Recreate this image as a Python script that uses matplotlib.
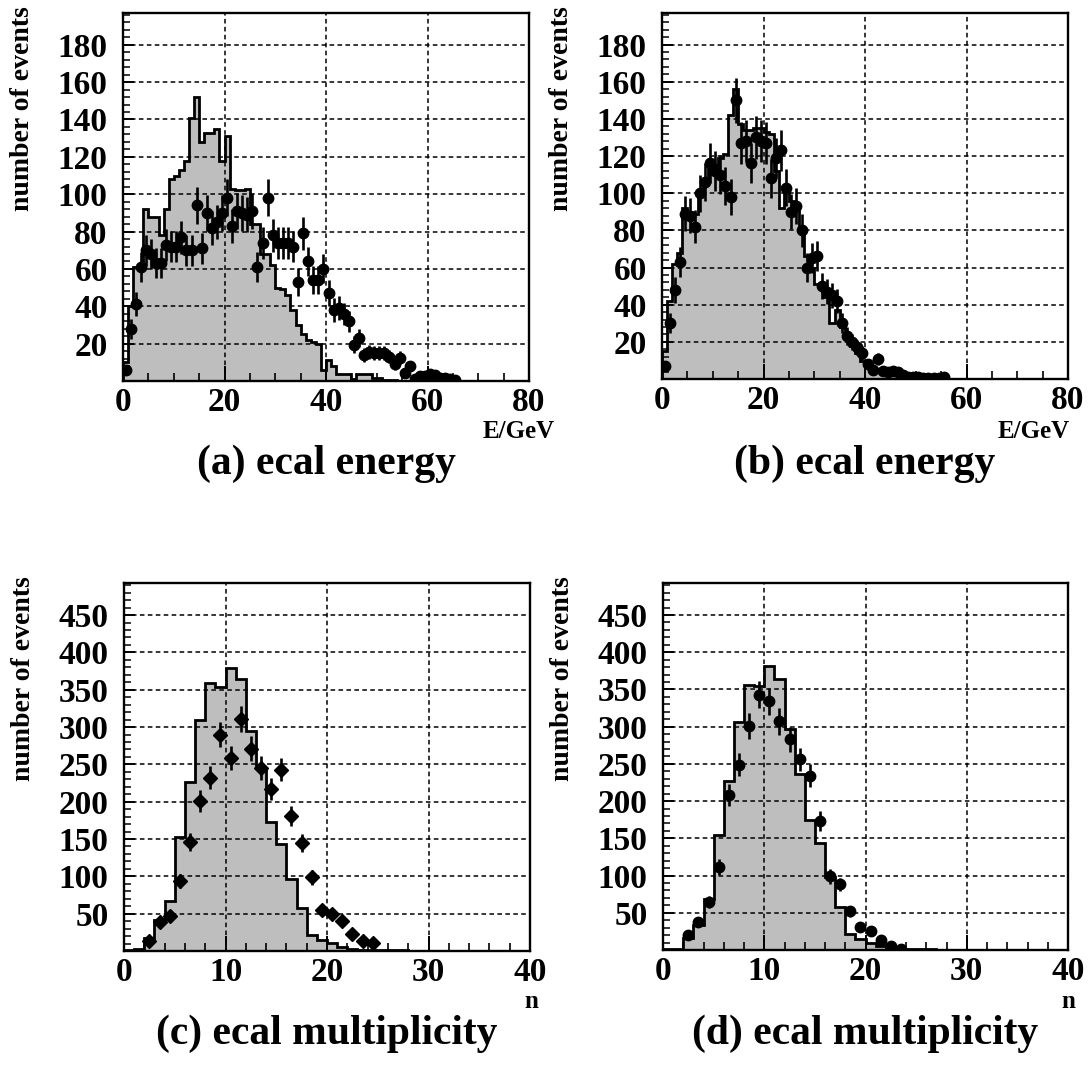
import numpy as np
import matplotlib
matplotlib.use("Agg")
import matplotlib.pyplot as plt
from matplotlib.ticker import MultipleLocator, FixedLocator

plt.rcParams["font.family"] = ["Liberation Serif", "DejaVu Serif"]
plt.rcParams["font.weight"] = "bold"

# ---- ecal energy: 1 GeV bins, 0-80 GeV ----
energy_edges = np.arange(0, 81, 1)

mc_energy_a = [10, 40, 61, 62, 92, 88, 88, 78, 92, 108,
               110, 113, 118, 141, 152, 128, 133, 133, 135, 118,
               131, 103, 102, 102, 103, 84, 84, 68, 68, 62,
               50, 49, 46, 38, 30, 25, 22, 21, 20, 6,
               11, 8, 4, 4, 4, 1, 3.5, 3.5, 3.5, 1.5,
               1.5, 0.5, 0.5, 0.5, 0, 0, 0, 0, 0, 0,
               0, 0, 0, 0, 0, 0, 0, 0, 0, 0,
               0, 0, 0, 0, 0, 0, 0, 0, 0, 0]

data_energy_a = [6, 28, 41, 61, 70, 68, 63, 63, 73, 72,
                 72, 77, 70, 70, 94, 71, 90, 82, 85, 90,
                 98, 83, 91, 90, 89, 91, 61, 74, 98, 78,
                 74, 74, 74, 72, 53, 79, 64, 54, 54, 60,
                 47, 38, 39, 36, 32, 19.5, 23, 14, 15.5, 15,
                 15, 15, 13, 9, 12.4, 4.4, 8, 1, 2.7, 2.7,
                 3.5, 3, 1.8, 1.4, 1, 0.5, 0, 0, 0, 0,
                 0, 0, 0, 0, 0, 0, 0, 0, 0, 0]

mc_energy_b = [15, 42, 62, 68, 92, 90, 89, 100, 107, 115,
               115, 119, 121, 142, 156, 137, 134, 134, 135, 135,
               133, 132, 112, 92, 101, 96, 92, 80, 66, 60,
               51, 49, 44, 30, 37, 28, 22, 18, 14, 9.5,
               7, 4, 3.5, 3, 2, 2, 2, 1.5, 1, 1,
               1, 0.5, 0.5, 0.5, 0.5, 0, 0, 0, 0, 0,
               0, 0, 0, 0, 0, 0, 0, 0, 0, 0,
               0, 0, 0, 0, 0, 0, 0, 0, 0, 0]

data_energy_b = [7, 30, 48, 63, 89, 88, 82, 100, 106, 116,
                 112, 110, 104, 98, 150, 127, 128, 116, 130, 128,
                 127, 108, 119, 123, 103, 90, 93, 80, 60, 65,
                 66, 50, 47, 45, 42, 30, 23, 20, 17, 14,
                 8, 5, 10.7, 4.5, 4, 4.5, 3.5, 2, 1, 1,
                 1, 0.5, 0.5, 0.5, 0.5, 1, 0, 0, 0, 0,
                 0, 0, 0, 0, 0, 0, 0, 0, 0, 0,
                 0, 0, 0, 0, 0, 0, 0, 0, 0, 0]

# ---- ecal multiplicity: unit bins, 0-40 ----
mult_edges = np.arange(0, 41, 1)

mc_mult_c = [1, 3, 18, 42, 67, 153, 227, 309, 359, 354,
             379, 364, 295, 245, 173, 143, 96, 57, 21, 15,
             11, 5, 3, 2, 2, 1, 1, 1, 0.5, 0.5,
             0, 0, 0, 0, 0, 0, 0, 0, 0, 0]

data_mult_c = [0, 0, 13, 39, 47, 94, 146, 201, 232, 290,
               259, 311, 271, 245, 217, 243, 181, 145, 99, 55,
               50, 40, 23, 13, 11, 0, 0, 0, 0, 0,
               0, 0, 0, 0, 0, 0, 0, 0, 0, 0]

mc_mult_d = [1, 2, 16, 33, 69, 155, 227, 306, 356, 354,
             381, 364, 297, 237, 174, 144, 98, 58, 21, 15,
             10, 5, 3, 2, 1.5, 1, 1, 0.5, 0.5, 0,
             0, 0, 0, 0, 0, 0, 0, 0, 0, 0]

data_mult_d = [0, 0, 20, 38, 65, 112, 208, 249, 301, 343,
               334, 307, 283, 256, 234, 173, 99, 88, 52, 31,
               25, 14, 5, 2, 0, 0, 0, 0, 0, 0,
               0, 0, 0, 0, 0, 0, 0, 0, 0, 0]

energy_xticks = [0, 20, 40, 60, 80]
energy_yticks = [20, 40, 60, 80, 100, 120, 140, 160, 180]
mult_xticks = [0, 10, 20, 30, 40]
mult_yticks = [50, 100, 150, 200, 250, 300, 350, 400, 450]

titles = ["(a) ecal energy", "(b) ecal energy",
          "(c) ecal multiplicity", "(d) ecal multiplicity"]

W, H = 1090, 1065
fig = plt.figure(figsize=(W / 100, H / 100), dpi=100)


def px_axes(left, top, right, bottom):
    return fig.add_axes([left / W, 1 - bottom / H, (right - left) / W, (bottom - top) / H])


def draw_panel(ax, edges, mc, data, xticks, yticks, xminor, yminor, ymax, marker, ms):
    mc = np.asarray(mc, dtype=float)
    data = np.asarray(data, dtype=float)
    ax.stairs(mc, edges, fill=True, facecolor="#bebebe", edgecolor="none", zorder=1)
    ax.stairs(mc, edges, color="black", linewidth=2.0, zorder=1.2)
    centers = 0.5 * (edges[:-1] + edges[1:])
    keep = data > 0
    ax.errorbar(centers[keep], data[keep], yerr=np.sqrt(data[keep]),
                fmt=marker, ms=ms, color="black", mfc="black", mec="black",
                elinewidth=1.9, capsize=0, zorder=3)
    ax.set_xlim(edges[0], edges[-1])
    ax.set_ylim(0, ymax)
    ax.xaxis.set_major_locator(FixedLocator(xticks))
    ax.yaxis.set_major_locator(FixedLocator(yticks))
    ax.xaxis.set_minor_locator(MultipleLocator(xminor))
    ax.yaxis.set_minor_locator(MultipleLocator(yminor))
    ax.set_axisbelow("line")
    ax.grid(True, which="major", color="black", linestyle=(0, (3.0, 2.2)), linewidth=1.1)
    ax.tick_params(axis="x", which="major", direction="in", length=11, width=1.4,
                   labelsize=24, pad=4, top=False)
    ax.tick_params(axis="x", which="minor", direction="in", length=6, width=1.2, top=False)
    ax.tick_params(axis="y", which="major", direction="in", length=8, width=1.4,
                   labelsize=24, pad=11, right=False)
    ax.tick_params(axis="y", which="minor", direction="in", length=5, width=1.1, right=False)
    for lab in ax.get_xticklabels() + ax.get_yticklabels():
        lab.set_fontweight("bold")
    for sp in ax.spines.values():
        sp.set_linewidth(1.7)


# panel boxes in pixels: left, top, right, bottom
boxes = [(123, 13, 529, 381), (662, 13, 1068, 379),
         (124, 583, 530, 951), (663, 583, 1068, 950)]

# x-axis unit label: right edge and baseline, in pixels
unit_pos = [(555, 438), (1070, 438), (538, 1008), (1075, 1008)]
title_base = [474, 474, 1044, 1044]

panels = [
    (energy_edges, mc_energy_a, data_energy_a, energy_xticks, energy_yticks, 5, 4, 197, "o", 7.5, "E/GeV"),
    (energy_edges, mc_energy_b, data_energy_b, energy_xticks, energy_yticks, 5, 4, 197, "o", 7.5, "E/GeV"),
    (mult_edges, mc_mult_c, data_mult_c, mult_xticks, mult_yticks, 2, 10, 493, "D", 6.8, "n"),
    (mult_edges, mc_mult_d, data_mult_d, mult_xticks, mult_yticks, 2, 10, 493, "o", 7.5, "n"),
]

for box, spec, title, upos, tb in zip(boxes, panels, titles, unit_pos, title_base):
    left, top, right, bottom = box
    ax = px_axes(left, top, right, bottom)
    edges, mc, data, xt, yt, xm, ym, ymax, marker, ms, xlab = spec
    draw_panel(ax, edges, mc, data, xt, yt, xm, ym, ymax, marker, ms)
    fig.text((left - 100) / W, 1 - (top - 7) / H, "number of events", rotation=90,
             ha="center", va="top", fontsize=20, fontweight="bold")
    fig.text(upos[0] / W, 1 - upos[1] / H, xlab, ha="right",
             va="baseline", fontsize=18, fontweight="bold")
    fig.text(0.5 * (left + right) / W, 1 - tb / H, title, ha="center",
             va="baseline", fontsize=30, fontweight="bold")

fig.savefig("out.png", dpi=100)
